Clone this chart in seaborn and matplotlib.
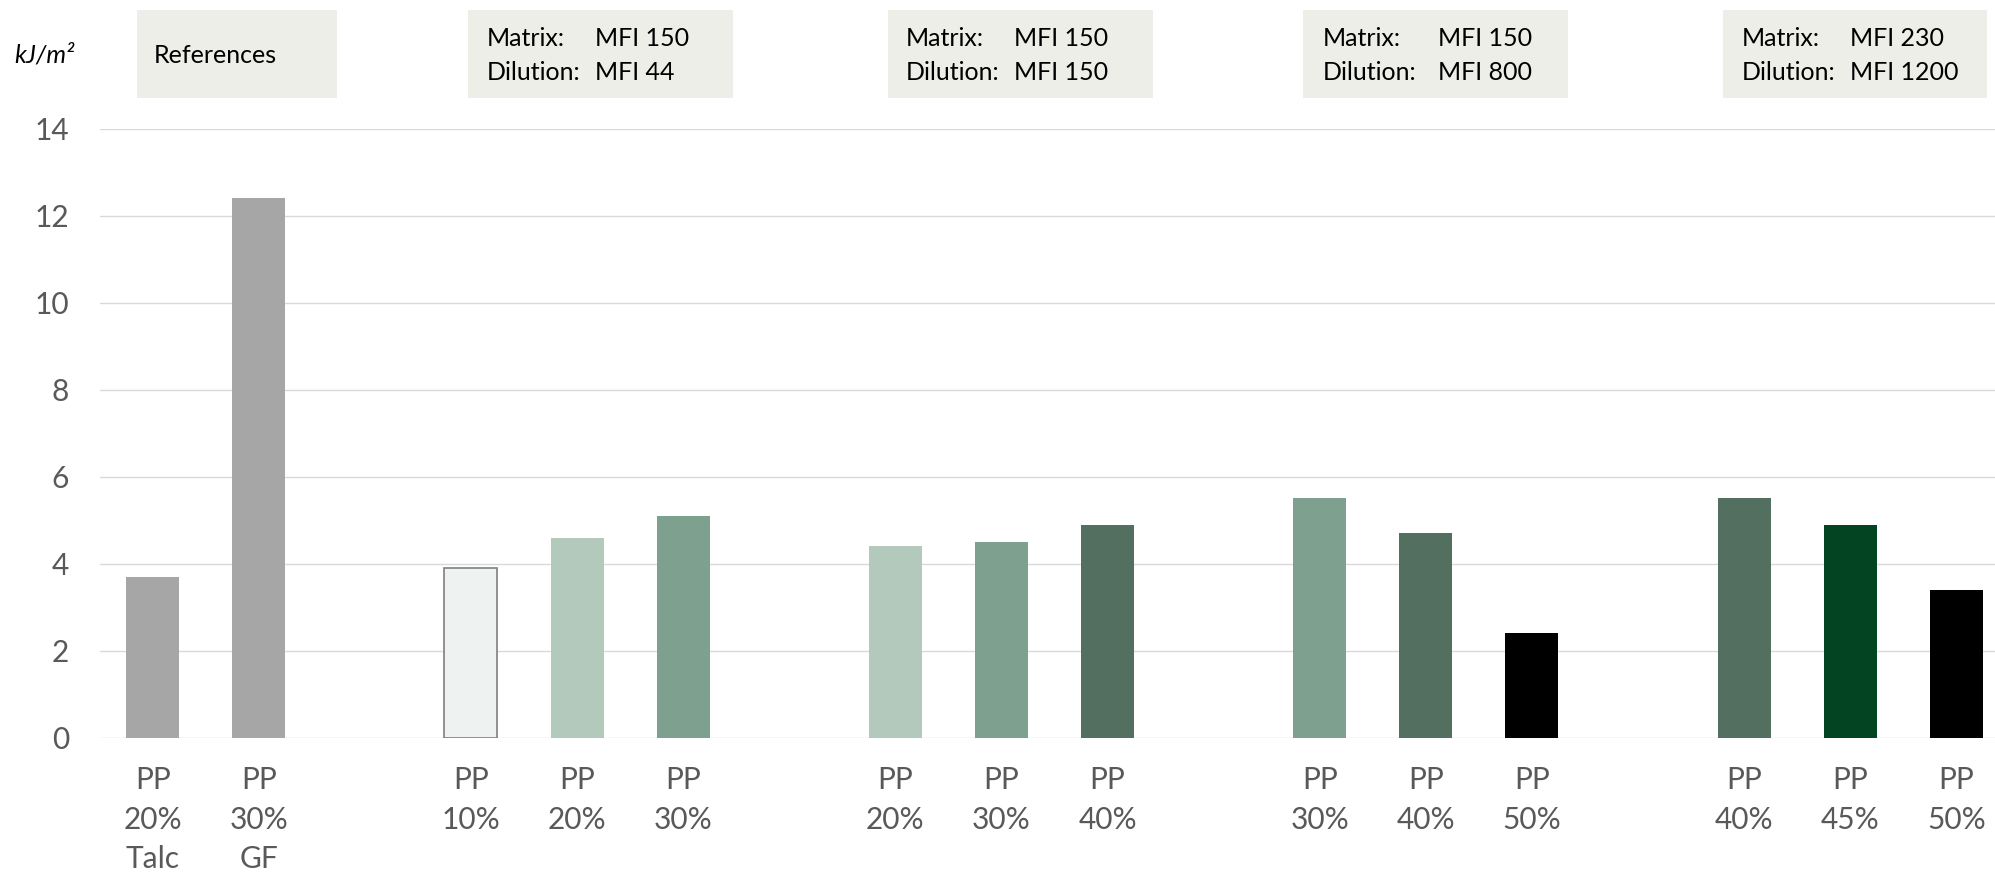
import matplotlib
matplotlib.use("Agg")
import matplotlib.pyplot as plt
from matplotlib.patches import Rectangle
import seaborn as sns
import pandas as pd

# ---- data ----
group_names = ["References", "MFI150/44", "MFI150/150", "MFI150/800", "MFI230/1200"]
labels_refs = ["PP\n20%\nTalc", "PP\n30%\nGF"]
labels_g1 = ["PP\n10%", "PP\n20%", "PP\n30%"]
labels_g2 = ["PP\n20%", "PP\n30%", "PP\n40%"]
labels_g3 = ["PP\n30%", "PP\n40%", "PP\n50%"]
labels_g4 = ["PP\n40%", "PP\n45%", "PP\n50%"]
values_refs = [3.7, 12.4]
values_g1 = [3.9, 4.6, 5.1]
values_g2 = [4.4, 4.5, 4.9]
values_g3 = [5.5, 4.7, 2.4]
values_g4 = [5.5, 4.9, 3.4]
colors_refs = ["#A6A6A6", "#A6A6A6"]
colors_g1 = ["#EEF2F0", "#B3C9BC", "#7EA08E"]
colors_g2 = ["#B3C9BC", "#7EA08E", "#526F5F"]
colors_g3 = ["#7EA08E", "#526F5F", "#000000"]
colors_g4 = ["#526F5F", "#034523", "#000000"]
y_ticks = [0, 2, 4, 6, 8, 10, 12, 14]
unit_label = "kJ/m²"
box_titles = [
    [("References", None)],
    [("Matrix:", "MFI 150"), ("Dilution:", "MFI 44")],
    [("Matrix:", "MFI 150"), ("Dilution:", "MFI 150")],
    [("Matrix:", "MFI 150"), ("Dilution:", "MFI 800")],
    [("Matrix:", "MFI 230"), ("Dilution:", "MFI 1200")],
]

groups_labels = [labels_refs, labels_g1, labels_g2, labels_g3, labels_g4]
groups_values = [values_refs, values_g1, values_g2, values_g3, values_g4]
groups_colors = [colors_refs, colors_g1, colors_g2, colors_g3, colors_g4]

rows = []
order = []
tick_text = []
palette = {}
for gi, (labs, vals, cols) in enumerate(zip(groups_labels, groups_values, groups_colors)):
    if gi > 0:
        gap_key = f"gap{gi}"
        order.append(gap_key)
        tick_text.append("")
    for bi, (lab, v, c) in enumerate(zip(labs, vals, cols)):
        key = f"g{gi}_{bi}"
        rows.append({"key": key, "value": v})
        order.append(key)
        tick_text.append(lab)
        palette[key] = c
df = pd.DataFrame(rows)

# ---- figure ----
sns.set_theme(style="white")
plt.rcParams["font.family"] = ["Lato", "DejaVu Sans"]

W, H = 1995, 873
fig = plt.figure(figsize=(W / 100, H / 100), dpi=100)

def fx(px):
    return px / W

def fy(py):
    return 1 - py / H

ax_left, ax_right = 99.6, 2009.4
ax_bottom, ax_top = 737.7, 128.7
ax = fig.add_axes([fx(ax_left), fy(ax_bottom), fx(ax_right - ax_left), (ax_bottom - ax_top) / H])

sns.barplot(data=df, x="key", y="value", order=order, hue="key", palette=palette,
            legend=False, width=0.5, saturation=1, ax=ax, errorbar=None, zorder=3)

# outline for the lightest bar
for p in ax.patches:
    fc = matplotlib.colors.to_hex(p.get_facecolor()).upper()
    if fc == "#EEF2F0":
        p.set_edgecolor("#7F7F7F")
        p.set_linewidth(1.2)
    else:
        p.set_linewidth(0)

ax.set_xlim(-0.5, len(order) - 0.5)
ax.set_ylim(0, 14)
ax.set_yticks(y_ticks)
ax.set_yticklabels([str(t) for t in y_ticks])
ax.set_xticks(range(len(order)))
ax.set_xticklabels(tick_text, linespacing=1.5)
ax.set_xlabel("")
ax.set_ylabel("")
ax.grid(axis="y", color="#D9D9D9", linewidth=1.0, zorder=0)
ax.grid(axis="x", visible=False)
ax.set_axisbelow(True)
for s in ax.spines.values():
    s.set_visible(False)
ax.tick_params(axis="y", length=0, pad=22, labelsize=21.5, labelcolor="#595959")
ax.tick_params(axis="x", length=0, pad=20.5, labelsize=21.5, labelcolor="#595959")
for t in ax.get_xticklabels():
    t.set_verticalalignment("top")

# ---- header boxes ----
box_color = "#EEEEE8"
box_x = [(137, 337), (468, 733), (888, 1153), (1303, 1568), (1723, 1987)]
box_y = (10, 98)
label_x = [154, 487, 906, 1323, 1742]
value_x = [None, 595, 1014, 1438, 1850]
fs_box = 18
for bi, lines in enumerate(box_titles):
    x0, x1 = box_x[bi]
    fig.patches.append(Rectangle((fx(x0), fy(box_y[1])), fx(x1 - x0), (box_y[1] - box_y[0]) / H,
                                 transform=fig.transFigure, facecolor=box_color,
                                 edgecolor="none", zorder=0))
    if len(lines) == 1:
        fig.text(fx(label_x[bi]), fy(63), lines[0][0], fontsize=fs_box, color="black",
                 ha="left", va="baseline")
    else:
        baselines = [46.5, 80.5]
        for (lab, val), by in zip(lines, baselines):
            fig.text(fx(label_x[bi]), fy(by), lab, fontsize=fs_box, color="black",
                     ha="left", va="baseline")
            fig.text(fx(value_x[bi]), fy(by), val, fontsize=fs_box, color="black",
                     ha="left", va="baseline")

fig.text(fx(14), fy(63), unit_label, fontsize=fs_box, style="italic", color="black",
         ha="left", va="baseline")

fig.savefig("out.png", dpi=100, facecolor="white")
